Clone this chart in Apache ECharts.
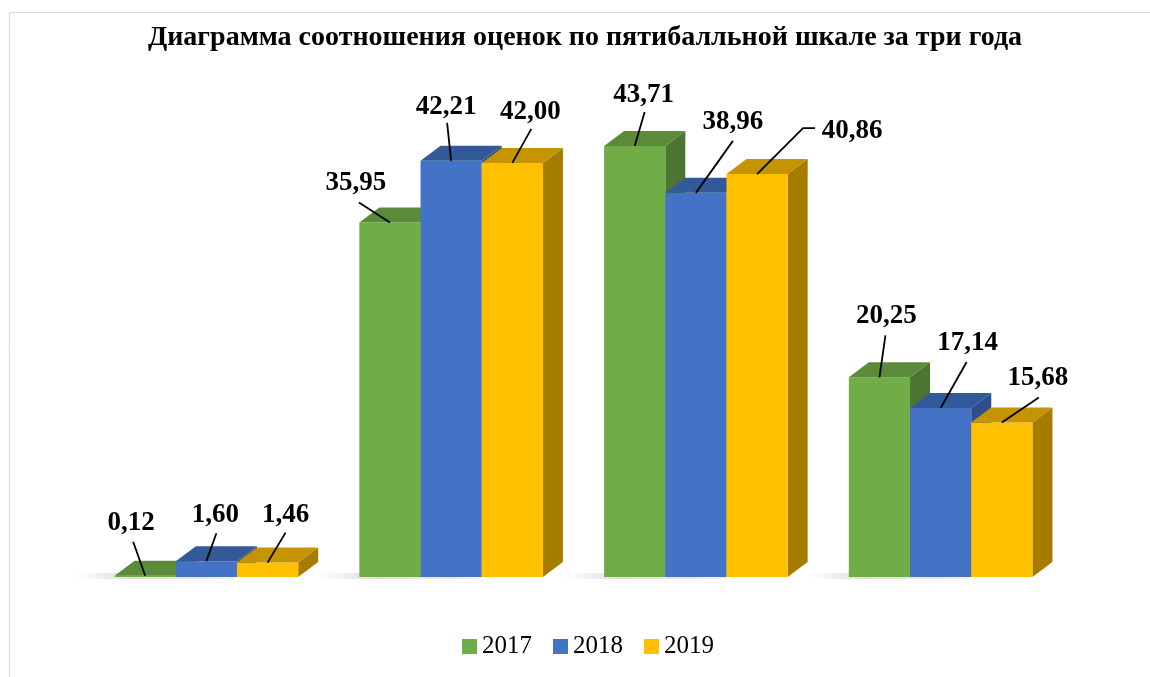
<!DOCTYPE html>
<html>
<head>
<meta charset="utf-8">
<title>Диаграмма соотношения оценок</title>
<script src="https://cdn.jsdelivr.net/npm/echarts@6/dist/echarts.min.js"></script>
<style>
  html, body { margin: 0; padding: 0; background: #fff; }
  #chart { width: 1150px; height: 677px; }
</style>
</head>
<body>
<div id="chart"></div>
<script>
// данные: оценки по пятибалльной шкале, доля в %
var categories = ['2', '3', '4', '5'];
var years = ['2017', '2018', '2019'];
var values2017 = [0.12, 35.95, 43.71, 20.25];
var values2018 = [1.60, 42.21, 38.96, 17.14];
var values2019 = [1.46, 42.00, 40.86, 15.68];
var seriesValues = [values2017, values2018, values2019];

// цвета граней: фронт, верх, бок
var palette = [
    { front: '#70AD47', top: '#5A8B39', side: '#4B7530' },
    { front: '#4472C4', top: '#335A98', side: '#2E508A' },
    { front: '#FFC000', top: '#C69400', side: '#A67C00' }
];

// куда ставить подпись относительно верха бара: [текст dx, dy, начало линии dx, dy, (излом dx, dy)]
var labelPlace = [
    [[-14, -53, -12, -34], [9, -46, 10, -28], [18, -48, 18, -30]],
    [[-34, -40, -31, -20], [-5, -54, -4, -38], [18, -51, 19, -34]],
    [[9, -51, 10, -34], [37, -71, 37, -52], [95, -43, 58, -46, 46, -46]],
    [[7, -61, 6, -42], [27, -65, 26, -46], [36, -44, 37, -25]]
];

var depthX = 20, depthY = 15;

function fmt(v) {
    return v.toFixed(2).replace('.', ',');
}

function renderBar(params, api) {
    var s = params.seriesIndex;
    var cat = api.value(0);
    var val = api.value(1);
    var base = api.coord([cat, 0]);
    var top = api.coord([cat, val]);
    var band = api.size([1, 0])[0];
    var w = band * 0.25;
    var cx = base[0] + (s - 1) * w;
    var x0 = cx - w / 2, x1 = cx + w / 2;
    var y0 = top[1], yb = base[1];
    var c = palette[s];
    var children = [];

    // мягкая тень слева у основания группы
    if (s === 0) {
        children.push({
            type: 'rect',
            z2: 0,
            shape: { x: x0 - 40, y: yb - 4, width: 40 + w * 2, height: 6 },
            style: {
                fill: new echarts.graphic.LinearGradient(0, 0, 1, 0, [
                    { offset: 0, color: 'rgba(0,0,0,0)' },
                    { offset: 0.35, color: 'rgba(0,0,0,0.12)' },
                    { offset: 1, color: 'rgba(0,0,0,0.05)' }
                ]),
                shadowBlur: 6,
                shadowColor: 'rgba(0,0,0,0.15)'
            }
        });
    }

    children.push({
        type: 'polygon',
        z2: s * 3 + 1,
        shape: { points: [[x1, y0], [x1 + depthX, y0 - depthY], [x1 + depthX, yb - depthY], [x1, yb]] },
        style: { fill: c.side }
    });
    children.push({
        type: 'rect',
        z2: s * 3 + 2,
        shape: { x: x0, y: y0, width: w, height: yb - y0 },
        style: { fill: c.front }
    });
    children.push({
        type: 'polygon',
        z2: s * 3 + 2,
        shape: { points: [[x0, y0], [x0 + depthX, y0 - depthY], [x1 + depthX, y0 - depthY], [x1, y0]] },
        style: { fill: c.top }
    });

    // подпись с выноской
    var p = labelPlace[cat][s];
    var pts = [[cx + p[2], y0 + p[3]]];
    if (p.length > 4) pts.push([cx + p[4], y0 + p[5]]);
    pts.push([cx, y0]);
    children.push({
        type: 'polyline',
        z2: 20,
        shape: { points: pts },
        style: { stroke: '#000', lineWidth: 1.8, fill: null }
    });
    children.push({
        type: 'text',
        z2: 21,
        style: {
            x: cx + p[0],
            y: y0 + p[1],
            text: fmt(val),
            align: 'center',
            verticalAlign: 'middle',
            fill: '#000',
            font: 'bold 27px "Liberation Serif", "Times New Roman", serif'
        }
    });

    return { type: 'group', children: children };
}

var chart = echarts.init(document.getElementById('chart'));

var series = years.map(function (y, s) {
    return {
        name: y,
        type: 'custom',
        renderItem: renderBar,
        itemStyle: { color: palette[s].front },
        encode: { x: 0, y: 1 },
        data: seriesValues[s].map(function (v, i) { return [i, v]; })
    };
});

chart.setOption({
    backgroundColor: '#fff',
    animation: false,
    title: {
        text: 'Диаграмма соотношения оценок по пятибалльной шкале за три года',
        left: 585,
        textAlign: 'center',
        top: 24,
        padding: 0,
        textStyle: {
            fontFamily: 'Liberation Serif',
            fontWeight: 'bold',
            fontSize: 28,
            color: '#000'
        }
    },
    legend: {
        data: years,
        left: 462,
        top: 634,
        padding: 0,
        icon: 'rect',
        itemWidth: 15,
        itemHeight: 15,
        itemGap: 21,
        textStyle: {
            fontFamily: 'Liberation Serif',
            fontSize: 25,
            color: '#000'
        }
    },
    graphic: [{
        type: 'rect',
        silent: true,
        shape: { x: 9.5, y: 12.5, width: 1200, height: 700 },
        style: { fill: null, stroke: '#D9D9D9', lineWidth: 1 }
    }],
    grid: { left: 84, right: 87, top: 84, bottom: 100 },
    xAxis: {
        type: 'category',
        data: categories,
        show: false
    },
    yAxis: {
        type: 'value',
        min: 0,
        max: 50,
        show: false,
        splitLine: { show: false }
    },
    series: series
});
</script>
</body>
</html>
